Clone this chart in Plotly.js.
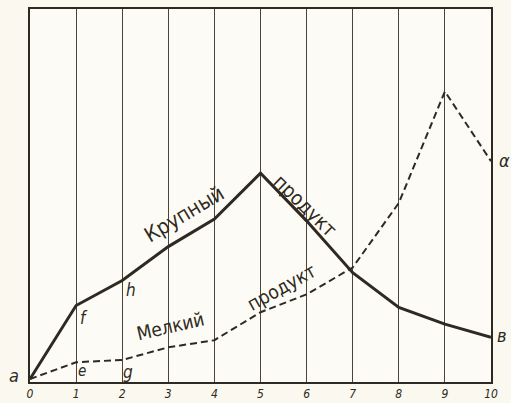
<!DOCTYPE html>
<html>
<head>
<meta charset="utf-8">
<script src="https://cdn.plot.ly/plotly-3.0.1.min.js"></script>
<style>
html,body{margin:0;padding:0;background:#fbf8f0;}
#chart{width:511px;height:403px;}
</style>
</head>
<body>
<div id="chart"></div>
<script>
// Data (y in arbitrary units, 0 = baseline)
const xs = [0, 1, 2, 3, 4, 5, 6, 7, 8, 9, 10];
const tickLabels = ['0', '1', '2', '3', '4', '5', '6', '7', '8', '9', '10'];
const coarseProduct = [0.8, 20.5, 27.2, 36.3, 43.7, 56.0, 43.2, 29.3, 20.0, 15.5, 12.0]; // Крупный продукт
const fineProduct   = [0.8, 5.3, 5.9, 9.3, 11.2, 18.7, 23.5, 30.7, 48.0, 77.9, 59.2];  // Мелкий продукт
const coarseName = 'Крупный продукт';
const fineName = 'Мелкий продукт';

const ink = '#2e2a22';
const handFont = 'DejaVu Sans Condensed, DejaVu Sans, sans-serif';

const traces = [
  {x: xs, y: coarseProduct, name: coarseName, mode: 'lines', line: {color: ink, width: 3}},
  {x: xs, y: fineProduct, name: fineName, mode: 'lines', line: {color: ink, width: 2, dash: '7px,4px'}}
];

function pointLabel(text, x, y, xs_, ys_, size) {
  return {x: x, y: y, xref: 'x', yref: 'y', text: text, showarrow: false,
    xshift: xs_, yshift: ys_, font: {family: handFont, size: size || 17, color: ink, style: 'italic'}};
}
function lineLabel(text, x, y, angle, size) {
  return {x: x, y: y, xref: 'x', yref: 'y', text: text, showarrow: false, textangle: angle,
    font: {family: handFont, size: size || 20, color: ink}};
}

const annotations = [
  pointLabel('a', xs[0], coarseProduct[0], -16, 4, 18),
  pointLabel('f', xs[1], coarseProduct[1], 8, -12),
  pointLabel('h', xs[2], coarseProduct[2], 9, -9),
  pointLabel('e', xs[1], fineProduct[1], 6, -9, 15),
  pointLabel('g', xs[2], fineProduct[2], 6, -12, 17),
  pointLabel('в', xs[10], coarseProduct[10], 11, 2, 18),
  pointLabel('α', xs[10], fineProduct[10], 13, 1, 18),
  lineLabel('Крупный', 3.35, 45.0, -31, 21),
  lineLabel('продукт', 5.98, 47.3, 44, 20),
  lineLabel('Мелкий', 3.04, 15.0, -13, 19),
  lineLabel('продукт', 5.45, 25.5, -29, 19)
];

const layout = {
  width: 511, height: 403,
  margin: {l: 30, r: 20, t: 9, b: 21},
  paper_bgcolor: '#fbf8f0',
  plot_bgcolor: '#fdfbf5',
  showlegend: false,
  xaxis: {
    range: [0, 10], tickmode: 'array', tickvals: xs, ticktext: tickLabels,
    showgrid: true, gridcolor: '#4a4538', gridwidth: 1,
    showline: true, linecolor: ink, linewidth: 2, mirror: true,
    zeroline: false, ticks: '', ticklen: 0, ticklabelstandoff: 0,
    tickfont: {family: handFont, size: 12, color: ink, style: 'italic'}
  },
  yaxis: {
    range: [0, 100], showgrid: false, showticklabels: false, ticks: '',
    showline: true, linecolor: ink, linewidth: 2, mirror: true, zeroline: false
  },
  annotations: annotations
};

Plotly.newPlot('chart', traces, layout, {displayModeBar: false, staticPlot: true});
</script>
</body>
</html>
